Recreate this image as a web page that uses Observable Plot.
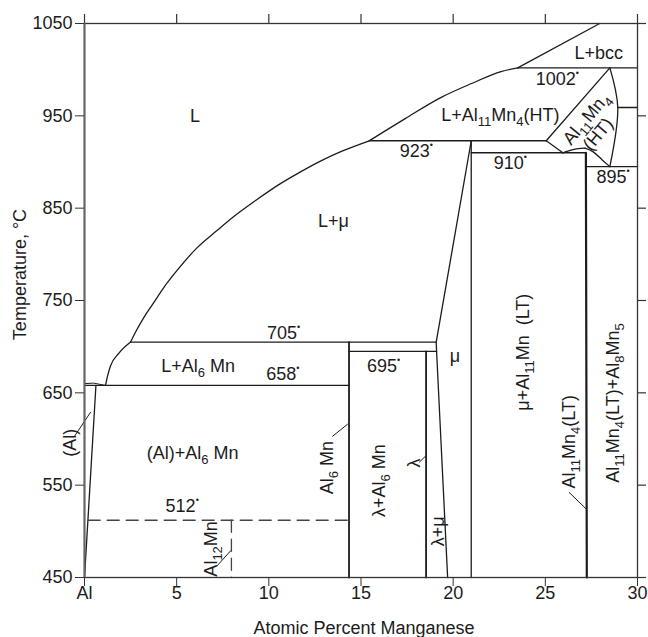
<!DOCTYPE html>
<html>
<head>
<meta charset="utf-8">
<script src="https://cdn.jsdelivr.net/npm/d3@7"></script>
<script src="https://cdn.jsdelivr.net/npm/@observablehq/plot@0.6"></script>
<style>
  html, body { margin: 0; padding: 0; background: #fff; }
</style>
</head>
<body>
<div id="chart"></div>
<script>
// ---- axis ticks ----
const xTicks = [0, 5, 10, 15, 20, 25, 30];
const yTicks = [450, 550, 650, 750, 850, 950, 1050];

// ---- phase boundaries: [at.% Mn, °C] ----
const liquidusAl = [[0,660],[0.5,660.5],[1.14,658]];
const liquidusLow = [[1.14,658],[1.25,668],[1.41,679],[1.87,693],[2.5,705]];
const liquidusMid = [[2.5,705],[2.8,717],[3.2,731],[3.7,746],[4.3,764],[5.0,782],[6.1,807],[7.2,826],[8.1,841],[9.4,860],[10.5,875],[11.6,888],[12.8,901],[14.0,912],[15.45,923]];
const liquidusHigh = [[15.45,923],[17.4,947],[19.35,970],[21.0,985],[22.6,998],[23.5,1002]];
const liquidusTop = [[23.5,1002],[27.95,1050]];
const alSolvus = [[0,450],[0.62,658]];
const iso705 = [[2.5,705],[19.08,705]];
const iso658 = [[0,658],[14.35,658]];
const iso695 = [[14.35,695],[19.1,695]];
const iso923 = [[15.45,923],[25.05,923]];
const iso910 = [[20.98,910],[27.2,910]];
const iso895 = [[27.2,895],[30,895]];
const iso1002 = [[23.5,1002],[30,1002]];
const iso959 = [[28.93,959],[30,959]];
const iso512 = [[0.2,512],[14.35,512]];
const al12Mn = [[7.97,512],[7.97,450]];
const al6Mn = [[14.35,705],[14.35,450]];
const lambdaLine = [[18.53,695],[18.53,450]];
const muLeft = [[20.98,923],[19.08,705],[19.1,695],[19.7,450]];
const muRight = [[20.98,923],[20.98,450]];
const al11Mn4LT = [[27.2,910],[27.25,450]];
const htLeft = [[25.05,923],[28.5,1002]];
const htRight = [[28.5,1002],[28.93,959],[28.5,895]];
const htBottomA = [[25.05,923],[25.95,910]];
const htBottomB = [[25.95,910],[26.5,913.5],[27.15,915]];
const htBottomC = [[27.15,915],[27.6,911],[28.1,902],[28.5,895]];

// ---- leader lines ----
const leaderAl = [[-0.54,603],[0.33,629]];
const leaderAl12Mn = [[7.21,463],[7.93,479]];
const leaderAl6Mn = [[13.46,603],[14.27,616]];
const leaderLambda = [[18.17,575],[18.53,582]];
const leaderAl11Mn4 = [[26.3,542],[27.23,524]];

// ---- labels: [text, at.% Mn, °C] ----
const labelsFlat = [
  ["L", 6.0, 950],
  ["L+bcc", 27.9, 1018],
  ["1002^{•}", 25.65, 990],
  ["L+Al_{11}Mn_{4}(HT)", 22.56, 951],
  ["923^{•}", 18.0, 912],
  ["910^{•}", 23.1, 899],
  ["895^{•}", 28.68, 884],
  ["L+μ", 13.5, 836],
  ["705^{•}", 10.8, 715],
  ["L+Al_{6} Mn", 6.17, 679],
  ["658^{•}", 10.76, 670],
  ["695^{•}", 16.22, 679],
  ["μ", 20.1, 690],
  ["(Al)+Al_{6} Mn", 5.87, 585],
  ["512^{•}", 5.3, 527]
];
const labelsVertical = [
  ["(Al)", -0.76, 596],
  ["Al_{12}Mn", 6.85, 481],
  ["Al_{6} Mn", 13.19, 569],
  ["λ+Al_{6} Mn", 16.0, 555],
  ["λ", 17.9, 574],
  ["λ+μ", 19.17, 500],
  ["μ+Al_{11}Mn  (LT)", 23.8, 694],
  ["Al_{11}Mn_{4}(LT)", 26.32, 597],
  ["Al_{11}Mn_{4}(LT)+Al_{8}Mn_{5}", 28.68, 639]
];
const labelsSlanted = [
  ["Al_{11}Mn_{4}", 27.23, 947],
  ["(HT)", 27.86, 930]
];

const ink = "#1c1c1c";
const X = d => d[0], Y = d => d[1];
const boundary = (pts, opts = {}) => Plot.line(pts, {x: X, y: Y, stroke: ink, strokeWidth: 1.3, ...opts});
const smooth = (pts, opts = {}) => boundary(pts, {curve: "monotone-x", ...opts});
const font = 18;
const W = 648, H = 637, ML = 84, MR = 11, MT = 23, MB = 60;

const plot = Plot.plot({
  width: W,
  height: H,
  marginLeft: ML,
  marginRight: MR,
  marginTop: MT,
  marginBottom: MB,
  x: {domain: [0, 30]},
  y: {domain: [450, 1050]},
  style: {fontFamily: "'Liberation Sans', Arial, sans-serif", fontSize: "18px", color: ink, background: "#fff"},
  marks: [
    boundary(liquidusAl, {strokeWidth: 1}),
    smooth(liquidusLow),
    smooth(liquidusMid),
    smooth(liquidusHigh),
    boundary(liquidusTop),
    boundary(alSolvus),
    boundary(iso705),
    boundary(iso658),
    boundary(iso695),
    boundary(iso923),
    boundary(iso910),
    boundary(iso895),
    boundary(iso1002),
    boundary(iso959),
    boundary(iso512, {strokeDasharray: "12,7", stroke: "#444"}),
    boundary(al12Mn, {strokeDasharray: "12,7", stroke: "#444"}),
    boundary(al6Mn, {strokeWidth: 1.8}),
    boundary(lambdaLine, {strokeWidth: 1.8}),
    boundary(muLeft),
    boundary(muRight),
    boundary(al11Mn4LT, {strokeWidth: 2.2}),
    boundary(htLeft),
    boundary(htRight, {curve: "catmull-rom"}),
    boundary(htBottomA),
    smooth(htBottomB),
    smooth(htBottomC),
    boundary(leaderAl, {strokeWidth: 1}),
    boundary(leaderAl12Mn, {strokeWidth: 1}),
    boundary(leaderAl6Mn, {strokeWidth: 1}),
    boundary(leaderLambda, {strokeWidth: 1}),
    boundary(leaderAl11Mn4, {strokeWidth: 1}),
    Plot.frame({stroke: "#333", strokeWidth: 1.3}),
    Plot.ruleX([0], {stroke: "#666", strokeWidth: 2}),
    // outward ticks on top and right edges
    Plot.tickX(xTicks, {x: d => d, stroke: "#333", strokeWidth: 1.2, insetTop: -9, insetBottom: H - MT - MB}),
    Plot.tickY(yTicks, {y: d => d, stroke: "#333", strokeWidth: 1.2, insetRight: -9, insetLeft: W - ML - MR}),
    Plot.axisX(xTicks, {anchor: "bottom", tickSize: 9, tickPadding: 0, fontSize: font, label: null,
      tickFormat: d => d === 0 ? "Al" : String(d), stroke: "#333"}),
    Plot.axisY(yTicks, {anchor: "left", tickSize: 9, tickPadding: 3, fontSize: font, label: null,
      tickFormat: d => String(d), stroke: "#333"}),
    Plot.text(labelsFlat, {x: d => d[1], y: d => d[2], text: d => d[0], fontSize: font, fill: ink}),
    Plot.text(labelsVertical, {x: d => d[1], y: d => d[2], text: d => d[0], fontSize: font, fill: ink, rotate: -90}),
    Plot.text(labelsSlanted, {x: d => d[1], y: d => d[2], text: d => d[0], fontSize: font, fill: ink, rotate: -50}),
    Plot.text(["Atomic Percent Manganese"], {frameAnchor: "bottom", dy: 51, dx: 3, fontSize: font, fill: ink,
      textAnchor: "middle", lineAnchor: "middle"}),
    Plot.text(["Temperature, °C"], {frameAnchor: "left", dx: -64, dy: -26, rotate: -90, fontSize: font, fill: ink,
      textAnchor: "middle", lineAnchor: "middle"})
  ]
});

// rich text: _{..} subscript, ^{..} superscript
const ns = "http://www.w3.org/2000/svg";
d3.select(plot).selectAll("text").each(function () {
  const s = this.textContent;
  if (!/[_^]\{/.test(s)) return;
  const re = /([_^])\{([^}]*)\}/g;
  const parts = [];
  let last = 0, m;
  while ((m = re.exec(s))) {
    if (m.index > last) parts.push({t: s.slice(last, m.index), k: ""});
    parts.push({t: m[2], k: m[1]});
    last = re.lastIndex;
  }
  if (last < s.length) parts.push({t: s.slice(last), k: ""});
  this.textContent = "";
  let cur = 0;
  for (const p of parts) {
    const ts = document.createElementNS(ns, "tspan");
    const target = p.k === "_" ? 5 : p.k === "^" ? -9 : 0;
    ts.setAttribute("dy", target - cur);
    cur = target;
    if (p.k === "_") ts.setAttribute("font-size", "13");
    if (p.k === "^") ts.setAttribute("font-size", "9");
    ts.textContent = p.t;
    this.appendChild(ts);
  }
});

document.getElementById("chart").appendChild(plot);
</script>
</body>
</html>
